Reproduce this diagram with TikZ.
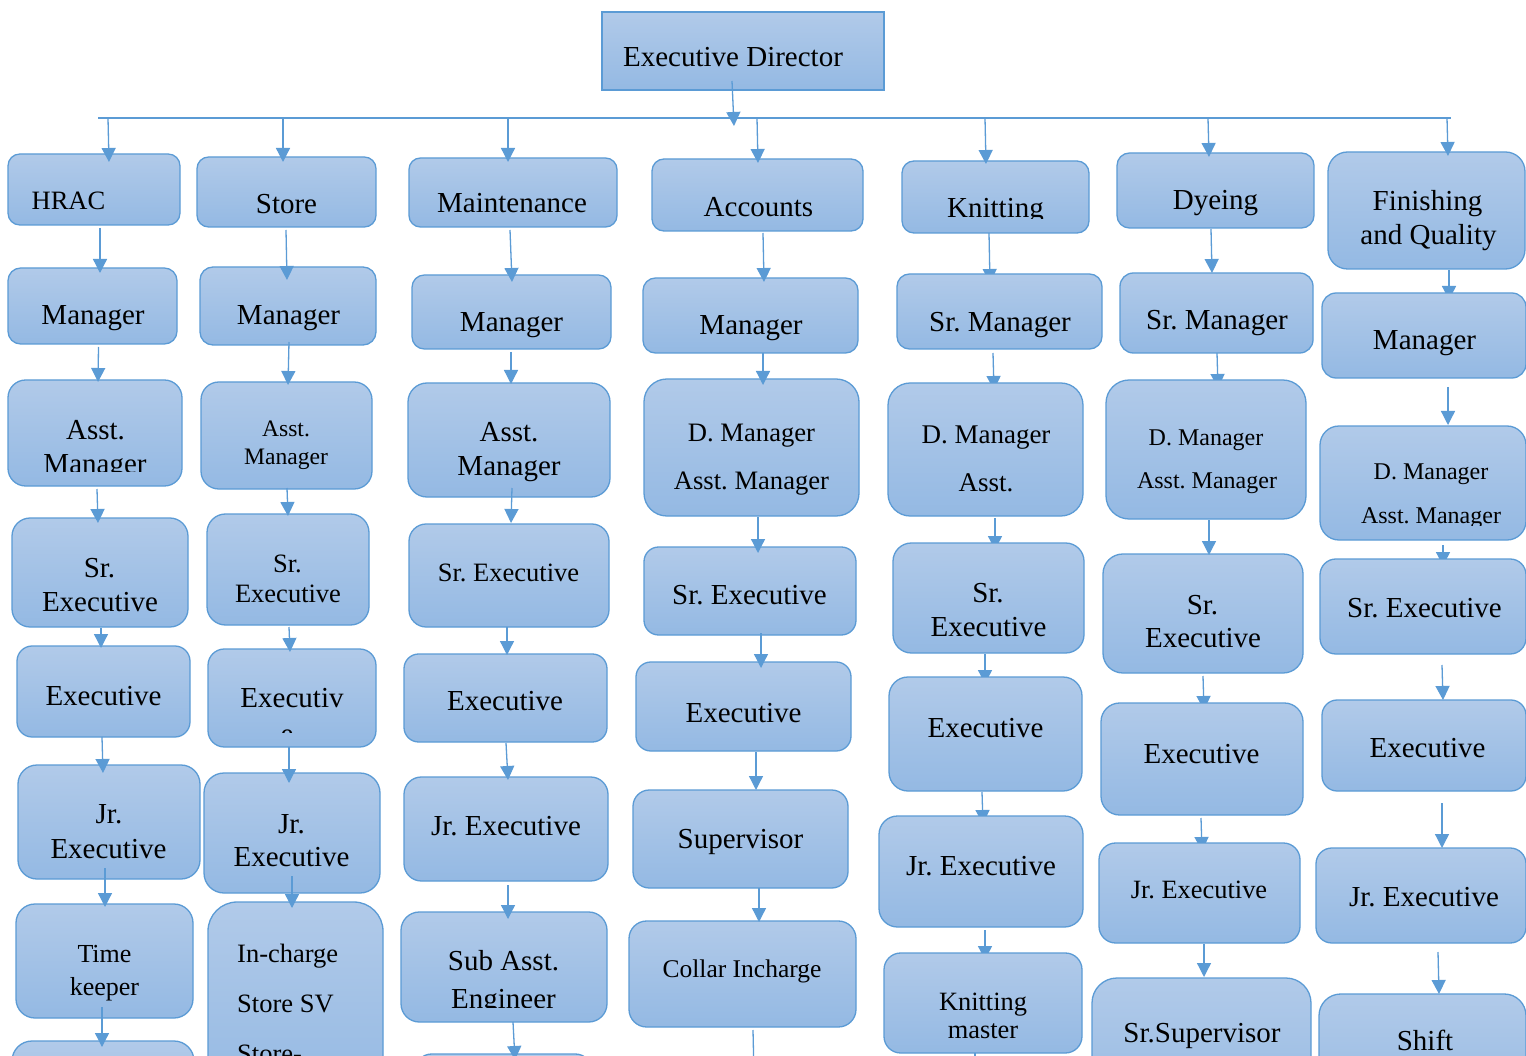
\documentclass[tikz,border=0pt]{standalone}
\usepackage{fontspec}
\setmainfont{Liberation Serif}
\usetikzlibrary{arrows.meta,calc}
\frenchspacing
\pgfdeclarelayer{bg}
\pgfsetlayers{bg,main}
\definecolor{edge}{RGB}{91,155,213}
\definecolor{filltop}{RGB}{177,202,233}
\definecolor{fillbot}{RGB}{148,185,227}
\tikzset{
  orgfill/.style={draw=edge, line width=1.3pt, top color=filltop, bottom color=fillbot,
                  inner sep=0pt, outer sep=0pt},
  conn/.style={draw=edge, line width=1.3pt, -{Triangle[length=14pt,width=14pt]}},
  busline/.style={draw=edge, line width=1.3pt},
  tx/.style={anchor=base, inner sep=0pt, text=black},
}
% rounded box given by its corners (x1,y1) (x2,y2); corner radius follows the shorter side
\newcommand\orgbox[5]{%
  \pgfmathsetmacro\bw{#4-#2}\pgfmathsetmacro\bh{#5-#3}%
  \pgfmathsetmacro\br{0.1667*min(\bw,\bh)}%
  \node[orgfill, minimum width=\bw pt, minimum height=\bh pt, rounded corners=\br pt]
    (#1) at ({(#2+#4)/2},{(#3+#5)/2}) {};}
% one line of text: name, x, baseline, size, text
\newcommand\txtline[5]{\node[tx, font=\fontsize{#4}{#4}\selectfont] (#1) at (#2,#3) {#5};}
% same, cut off below a given height
\newcommand\txtclip[6]{\begin{scope}\clip (0,0) rectangle (1526,#6);\txtline{#1}{#2}{#3}{#4}{#5}\end{scope}}

\begin{document}
\begin{tikzpicture}[x=1pt,y=-1pt]
\useasboundingbox (0,0) rectangle (1526,1056);
\begin{pgfonlayer}{bg}
  \fill[white] (0,0) rectangle (1526,1056);
\end{pgfonlayer}
\clip (0,0) rectangle (1526,1056);

% ---------- top ----------
\node[orgfill, minimum width=282pt, minimum height=78pt] (ed) at (743,51) {};
\txtline{edT}{733}{67}{29}{Executive Director}
\coordinate (busL) at (98,118);
\coordinate (busR) at (1451,118);
\coordinate (edtip) at (734,126);
\draw[busline] (busL) -- (busR);

% ---------- HRAC ----------
\orgbox{h0}{8}{154}{180}{225}
\orgbox{h1}{8}{268}{177}{344}
\orgbox{h2}{8}{380}{182}{486}
\orgbox{h3}{12}{518}{188}{627}
\orgbox{h4}{17}{646}{190}{737}
\orgbox{h5}{18}{765}{200}{879}
\orgbox{h6}{16}{904}{193}{1018}
\orgbox{h7}{12}{1041}{194}{1161}
\txtline{h0T}{68.5}{210}{26.5}{HRAC}
\txtline{h1T}{93}{325}{29}{Manager}
\txtline{h2Ta}{95.5}{439}{29}{Asst.}
\txtclip{h2Tb}{95}{473}{29}{Manager}{471}
\txtline{h3Ta}{99.5}{577}{29}{Sr.}
\txtline{h3Tb}{100}{611}{29}{Executive}
\txtline{h4T}{103.5}{705}{29}{Executive}
\txtline{h5Ta}{109}{823}{29}{Jr.}
\txtline{h5Tb}{108.5}{858}{29}{Executive}
\txtline{h6Ta}{104.5}{962}{26}{Time}
\txtline{h6Tb}{104.5}{995}{26}{keeper}

% ---------- Store ----------
\orgbox{s0}{197}{157}{376}{227}
\orgbox{s1}{200}{267}{376}{345}
\orgbox{s2}{201}{382}{372}{489}
\orgbox{s3}{207}{514}{369}{625}
\orgbox{s4}{208}{649}{376}{747}
\orgbox{s5}{204}{773}{380}{893}
\orgbox{s6}{208}{902}{383}{1102}
\txtclip{s0T}{286.5}{214}{29}{Store}{213.5}
\txtline{s1T}{288.5}{325}{29}{Manager}
\txtline{s2Ta}{286}{436}{23.6}{Asst.}
\txtline{s2Tb}{286}{464}{23.6}{Manager}
\txtline{s3Ta}{287.5}{572}{26.5}{Sr.}
\txtline{s3Tb}{288}{602}{26.5}{Executive}
\txtline{s4Ta}{292}{707}{29}{Executiv}
\txtclip{s4Tb}{287}{743}{29}{e}{732}
\txtline{s5Ta}{291.5}{833}{29}{Jr.}
\txtline{s5Tb}{291.5}{866}{29}{Executive}
\node[tx, anchor=base west, font=\fontsize{26.5}{26.5}\selectfont] (s6Ta) at (237,962) {In-charge};
\node[tx, anchor=base west, font=\fontsize{26.5}{26.5}\selectfont] (s6Tb) at (237,1012) {Store SV};
\node[tx, anchor=base west, font=\fontsize{26.5}{26.5}\selectfont] (s6Tc) at (237,1062) {Store-};

% ---------- Maintenance ----------
\orgbox{m0}{409}{158}{617}{227}
\orgbox{m1}{412}{275}{611}{349}
\orgbox{m2}{408}{383}{610}{497}
\orgbox{m3}{409}{524}{609}{627}
\orgbox{m4}{404}{654}{607}{742}
\orgbox{m5}{404}{777}{608}{881}
\orgbox{m6}{401}{912}{607}{1022}
\orgbox{m7}{415}{1054}{592}{1154}
\txtline{m0T}{512}{213}{29}{Maintenance}
\txtline{m1T}{511.5}{332}{29}{Manager}
\txtline{m2Ta}{509}{442}{29}{Asst.}
\txtline{m2Tb}{509}{475}{29}{Manager}
\txtline{m3T}{508.5}{581}{26.5}{Sr. Executive}
\txtline{m4T}{505}{710}{29}{Executive}
\txtline{m5T}{506}{835}{29}{Jr. Executive}
\txtline{m6Ta}{503.5}{970}{29}{Sub Asst.}
\txtclip{m6Tb}{503.5}{1008}{29}{Engineer}{1007}

% ---------- Accounts ----------
\orgbox{a0}{652}{159}{863}{231}
\orgbox{a1}{643}{278}{858}{353}
\orgbox{a2}{644}{379}{859}{516}
\orgbox{a3}{644}{547}{856}{635}
\orgbox{a4}{636}{662}{851}{751}
\orgbox{a5}{633}{790}{848}{888}
\orgbox{a6}{629}{921}{856}{1027}
\coordinate (a7) at (754,1075);
\txtline{a0T}{758.5}{217}{29}{Accounts}
\txtline{a1T}{751}{335}{29}{Manager}
\txtline{a2Ta}{751.5}{442}{26.6}{D. Manager}
\txtline{a2Tb}{751.5}{489}{26.6}{Asst. Manager}
\txtline{a3T}{749.5}{604}{29}{Sr. Executive}
\txtline{a4T}{743.5}{722}{29}{Executive}
\txtline{a5T}{740.5}{848}{29}{Supervisor}
\txtline{a6T}{742}{977}{25.5}{Collar Incharge}

% ---------- Knitting ----------
\orgbox{k0}{902}{161}{1089}{233}
\orgbox{k1}{897}{274}{1102}{349}
\orgbox{k2}{888}{383}{1083}{516}
\orgbox{k3}{893}{543}{1084}{653}
\orgbox{k4}{889}{677}{1082}{791}
\orgbox{k5}{879}{816}{1083}{927}
\orgbox{k6}{884}{953}{1082}{1053}
\coordinate (k7) at (975,1075);
\txtclip{k0T}{995.5}{218}{29}{Knitting}{219}
\txtline{k1T}{1000}{332}{29}{Sr. Manager}
\txtline{k2Ta}{986}{443}{27}{D. Manager}
\txtline{k2Tb}{986}{491}{27}{Asst.}
\txtline{k3Ta}{988}{602}{29}{Sr.}
\txtline{k3Tb}{988.5}{636}{29}{Executive}
\txtline{k4T}{985.5}{737}{29}{Executive}
\txtline{k5T}{981}{875}{29}{Jr. Executive}
\txtline{k6Ta}{983}{1010}{26.4}{Knitting}
\txtline{k6Tb}{983}{1038}{26.4}{master}

% ---------- Dyeing ----------
\orgbox{d0}{1117}{153}{1314}{228}
\orgbox{d1}{1120}{273}{1313}{353}
\orgbox{d2}{1106}{380}{1306}{519}
\orgbox{d3}{1103}{554}{1303}{673}
\orgbox{d4}{1101}{703}{1303}{815}
\orgbox{d5}{1099}{843}{1300}{943}
\orgbox{d6}{1092}{978}{1311}{1128}
\txtline{d0T}{1215.5}{210}{29}{Dyeing}
\txtline{d1T}{1217}{330}{29}{Sr. Manager}
\txtline{d2Ta}{1206}{445}{24}{D. Manager}
\txtline{d2Tb}{1207}{488}{24}{Asst. Manager}
\txtline{d3Ta}{1202.5}{614}{29}{Sr.}
\txtline{d3Tb}{1203}{647}{29}{Executive}
\txtline{d4T}{1201.5}{763}{29}{Executive}
\txtline{d5T}{1199}{898}{26.4}{Jr. Executive}
\txtline{d6T}{1202}{1042}{29}{Sr.Supervisor}

% ---------- Finishing and Quality ----------
\orgbox{f0}{1328}{152}{1525}{269}
\orgbox{f1}{1322}{293}{1526}{378}
\orgbox{f2}{1320}{426}{1526}{540}
\orgbox{f3}{1320}{559}{1526}{654}
\orgbox{f4}{1322}{700}{1526}{791}
\orgbox{f5}{1316}{848}{1526}{943}
\orgbox{f6}{1319}{994}{1526}{1124}
\txtline{f0Ta}{1427.5}{211}{29}{Finishing}
\txtline{f0Tb}{1428.5}{245}{29}{and Quality}
\txtline{f1T}{1424.5}{350}{29}{Manager}
\txtline{f2Ta}{1431}{479}{24}{D. Manager}
\txtclip{f2Tb}{1431}{523}{24}{Asst. Manager}{525}
\txtline{f3T}{1424.5}{617}{29}{Sr. Executive}
\txtline{f4T}{1427.5}{757}{29}{Executive}
\txtline{f5T}{1424}{906}{29}{Jr. Executive}
\txtline{f6T}{1425}{1050}{29}{Shift}

% ---------- connectors drawn over the boxes ----------
\draw[conn] ($(ed.south)+(-11,-9)$) -- (edtip);
\draw[conn] ($(h0.north |- busL)+(14,0)$) -- ($(h0.north)+(15,8)$);
\draw[conn] ($(s0.north |- busL)+(-3.5,0)$) -- ($(s0.north)+(-3.5,5)$);
\draw[conn] ($(m0.north |- busL)+(-5,0)$) -- ($(m0.north)+(-5,4)$);
\draw[conn] ($(a0.north |- busL)+(-0.5,0)$) -- ($(a0.north)+(0.5,4)$);
\draw[conn] ($(k0.north |- busL)+(-10.5,0)$) -- ($(k0.north)+(-9.5,3)$);
\draw[conn] ($(d0.north |- busL)+(-7.5,0)$) -- ($(d0.north)+(-6.5,4)$);
\draw[conn] ($(f0.north |- busL)+(20.5,0)$) -- ($(f0.north)+(21.5,4)$);

\draw[conn] ($(h0.south)+(6,3)$) -- ($(h1.north)+(7.5,5)$);
\draw[conn] ($(h1.south)+(6,3)$) -- ($(h2.north)+(3,2)$);
\draw[conn] ($(h2.south)+(2,3)$) -- ($(h3.north)+(-2,5)$);
\draw[conn] ($(h3.south)+(1,1)$) -- ($(h4.north)+(-2.5,2)$);
\draw[conn] ($(h4.south)+(-1.5,0)$) -- ($(h5.north)+(-6,8)$);
\draw[conn] ($(h5.south)+(-4,-11)$) -- ($(h6.north)+(0.5,3)$);
\draw[conn] ($(h6.south)+(-2.5,-11)$) -- ($(h7.north)+(-1,6)$);

\draw[conn] ($(s0.south)+(-0.5,3)$) -- ($(s1.north)+(-1,13)$);
\draw[conn] ($(s1.south)+(1,-3)$) -- ($(s2.north)+(1.5,3)$);
\draw[conn] ($(s2.south)+(0.5,-1)$) -- ($(s3.north)+(0,2)$);
\draw[conn] ($(s3.south)+(1,2)$) -- ($(s4.north)+(-2,3)$);
\draw[conn] ($(s4.south)+(-3,0)$) -- ($(s5.north)+(-3,10)$);
\draw[conn] ($(s5.south)+(0,-17)$) -- ($(s6.north)+(-3.5,6)$);

\draw[conn] ($(m0.south)+(-3,3)$) -- ($(m1.north)+(0.5,7)$);
\draw[conn] ($(m1.south)+(-0.5,3)$) -- ($(m2.north)+(2,1)$);
\draw[conn] ($(m2.south)+(3,-9)$) -- ($(m3.north)+(2,-1)$);
\draw[conn] ($(m3.south)+(-2,0)$) -- ($(m4.north)+(1.5,1)$);
\draw[conn] ($(m4.south)+(0.5,1)$) -- ($(m5.north)+(2,3)$);
\draw[conn] ($(m5.south)+(2,4)$) -- ($(m6.north)+(4,7)$);
\draw[conn] ($(m6.south)+(9,0)$) -- ($(m7.north)+(11.5,6)$);

\draw[conn] ($(a0.south)+(5.5,2)$) -- ($(a1.north)+(13.5,4)$);
\draw[conn] ($(a1.south)+(12.5,0)$) -- ($(a2.north)+(11.5,6)$);
\draw[conn] ($(a2.south)+(6.5,1)$) -- ($(a3.north)+(8,6)$);
\draw[conn] ($(a3.south)+(11,-2)$) -- ($(a4.north)+(17.5,6)$);
\draw[conn] ($(a4.south)+(12.5,1)$) -- ($(a5.north)+(15.5,0)$);
\draw[conn] ($(a5.south)+(18.5,0)$) -- ($(a6.north)+(16.5,1)$);
\draw[conn] ($(a6.south)+(10.5,3)$) -- (a7);

\draw[conn] ($(k6.south)+(-8,0)$) -- (k7);

\draw[conn] ($(d0.south)+(-4.5,1)$) -- ($(d1.north)+(-4.5,0)$);
\draw[conn] ($(d2.south)+(3,1)$) -- ($(d3.north)+(6,1)$);
\draw[conn] ($(d5.south)+(4.5,1)$) -- ($(d6.north)+(2.5,-1)$);

\draw[conn] ($(f1.south)+(24,9)$) -- ($(f2.north)+(25,-1)$);
\draw[conn] ($(f3.south)+(19,11)$) -- ($(f4.north)+(19,0)$);
\draw[conn] ($(f4.south)+(18,12)$) -- ($(f5.north)+(21,0)$);
\draw[conn] ($(f5.south)+(17,9)$) -- ($(f6.north)+(16.5,0)$);

% ---------- connectors whose heads tuck under the next box ----------
\begin{pgfonlayer}{bg}
\draw[conn] ($(k0.south)+(-6.5,0)$) -- ($(k1.north)+(-9.5,9)$);
\draw[conn] ($(k1.south)+(-6.5,4)$) -- ($(k2.north)+(8.5,7)$);
\draw[conn] ($(k2.south)+(9.5,2)$) -- ($(k3.north)+(6.5,7)$);
\draw[conn] ($(k3.south)+(-3.5,1)$) -- ($(k4.north)+(-0.5,7)$);
\draw[conn] ($(k4.south)+(-3.5,1)$) -- ($(k5.north)+(2,8)$);
\draw[conn] ($(k5.south)+(4,3)$) -- ($(k6.north)+(2,7)$);
\draw[conn] ($(d1.south)+(0.5,0)$) -- ($(d2.north)+(12,8)$);
\draw[conn] ($(d3.south)+(0,3)$) -- ($(d4.north)+(2,7)$);
\draw[conn] ($(d4.south)+(-1,3)$) -- ($(d5.north)+(2.5,8)$);
\draw[conn] ($(f0.south)+(22.5,1)$) -- ($(f1.north)+(25,7)$);
\draw[conn] ($(f2.south)+(20,5)$) -- ($(f3.north)+(20,7)$);
\end{pgfonlayer}
\end{tikzpicture}
\end{document}
